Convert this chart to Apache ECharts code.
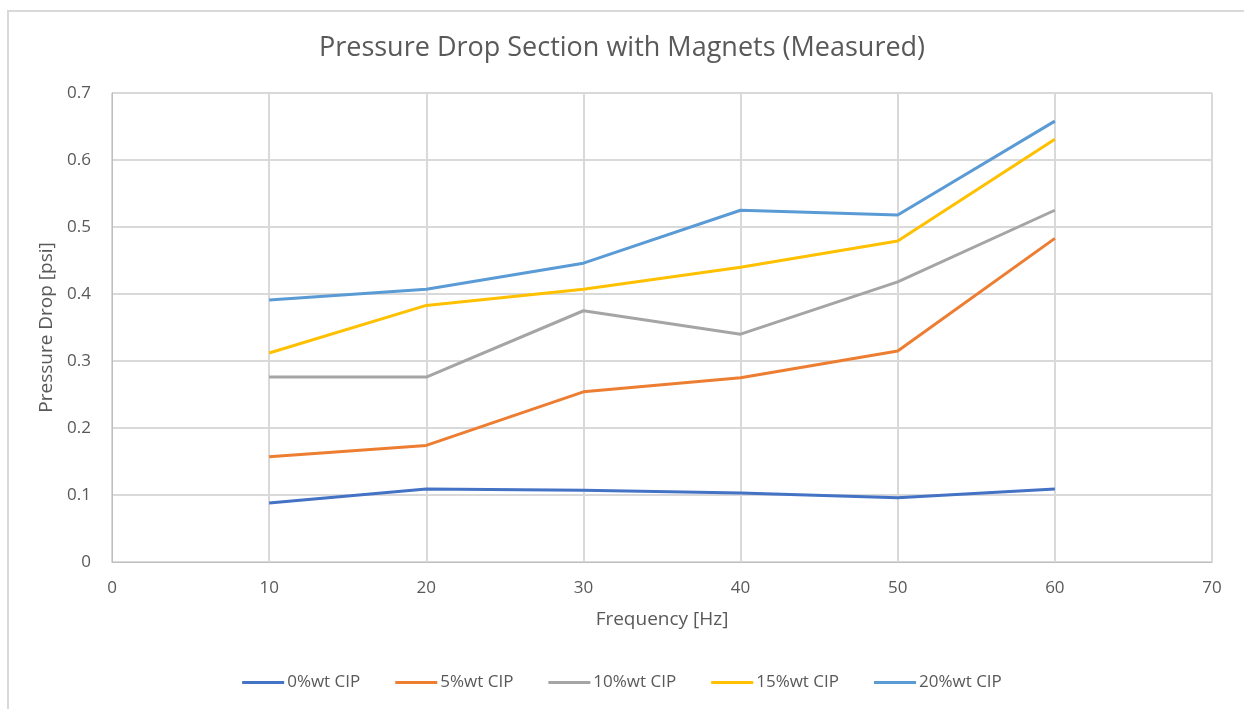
<!DOCTYPE html>
<html>
<head>
<meta charset="utf-8">
<script src="https://cdn.jsdelivr.net/npm/echarts@6/dist/echarts.min.js"></script>
<style>
  html, body { margin: 0; padding: 0; background: #fff; overflow: hidden; }
  #frame { position: absolute; left: 7px; top: 10px; width: 1300px; height: 760px; border-left: 2px solid #d9d9d9; border-top: 2px solid #d9d9d9; }
  #chart { position: absolute; left: 0; top: 0; width: 1244px; height: 709px; }
</style>
</head>
<body>
<div id="frame"></div>
<div id="chart"></div>
<script>
	// 数据
	var frequency = [10, 20, 30, 40, 50, 60];
	var seriesNames = ['0%wt CIP', '5%wt CIP', '10%wt CIP', '15%wt CIP', '20%wt CIP'];
	var cip0 = [0.088, 0.109, 0.107, 0.103, 0.096, 0.109];
	var cip5 = [0.157, 0.174, 0.254, 0.275, 0.315, 0.483];
	var cip10 = [0.276, 0.276, 0.375, 0.340, 0.418, 0.525];
	var cip15 = [0.312, 0.383, 0.407, 0.440, 0.479, 0.631];
	var cip20 = [0.391, 0.407, 0.446, 0.525, 0.518, 0.658];
	var colors = ['#4472c4', '#ed7d31', '#a5a5a5', '#ffc000', '#5b9bd5'];

	var allData = [cip0, cip5, cip10, cip15, cip20];
	var fontFamily = '"Open Sans", "Noto Sans", sans-serif';

	var myChart = echarts.init(document.getElementById('chart'));

	var series = seriesNames.map(function (name, i) {
		return {
			name: name,
			type: 'line',
			data: frequency.map(function (f, j) { return [f, allData[i][j]]; }),
			symbol: 'none',
			lineStyle: { width: 3, color: colors[i] },
			itemStyle: { color: colors[i] }
		};
	});

	var option = {
		color: colors,
		animation: false,
		textStyle: { fontFamily: fontFamily },
		title: {
			text: 'Pressure Drop Section with Magnets (Measured)',
			left: 'center',
			top: 30,
			textStyle: { fontSize: 27, fontWeight: 'normal', color: '#595959', fontFamily: fontFamily }
		},
		legend: {
			top: 669,
			left: 'center',
			itemWidth: 42,
			itemHeight: 3,
			itemGap: 35,
			icon: 'rect',
			textStyle: { fontSize: 17, color: '#595959', padding: [0, 0, 0, -2] },
			data: seriesNames
		},
		grid: { left: 112, right: 32, top: 93, bottom: 147 },
		xAxis: {
			type: 'value',
			min: 0, max: 70, interval: 10,
			name: 'Frequency [Hz]',
			nameLocation: 'middle',
			nameGap: 48,
			nameTextStyle: { fontSize: 19, color: '#595959' },
			axisLine: { show: true, lineStyle: { color: '#bfbfbf' } },
			axisTick: { show: false },
			axisLabel: { fontSize: 17, color: '#595959', margin: 18 },
			splitLine: { show: true, lineStyle: { color: '#d9d9d9', width: 2 } }
		},
		yAxis: {
			type: 'value',
			min: 0, max: 0.7, interval: 0.1,
			name: 'Pressure Drop [psi]',
			nameLocation: 'middle',
			nameGap: 51,
			nameTextStyle: { fontSize: 19, color: '#595959' },
			axisLine: { show: true, lineStyle: { color: '#bfbfbf' } },
			axisTick: { show: false },
			axisLabel: { fontSize: 17, color: '#595959', margin: 21,
				formatter: function (v) { return v === 0 ? '0' : v.toFixed(1); } },
			splitLine: { show: true, lineStyle: { color: '#d9d9d9', width: 2 } }
		},
		series: series
	};

	myChart.setOption(option);
</script>
</body>
</html>
